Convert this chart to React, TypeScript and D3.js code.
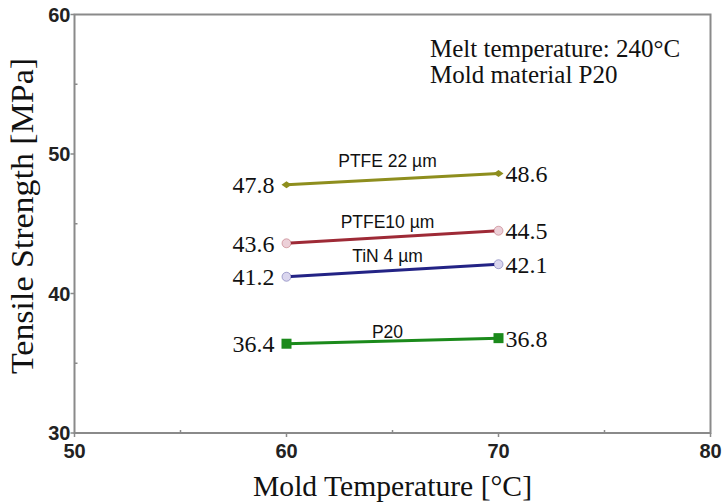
import React from "react";
import * as d3 from "d3";

const temps = [60, 70];
const seriesNames = ["PTFE 22 µm", "PTFE10 µm", "TiN 4 µm", "P20"];
const ptfe22 = [47.8, 48.6];
const ptfe10 = [43.6, 44.5];
const tin4 = [41.2, 42.1];
const p20 = [36.4, 36.8];
const xTicks = [50, 60, 70, 80];
const yTicks = [30, 40, 50, 60];
const xMinor = [55, 65, 75];
const yMinor = [35, 45, 55];

const W = 722, H = 504;
const L = 74.5, R = 710.5, T = 14.5, B = 433;

export default function App() {
  const x = d3.scaleLinear().domain([50, 80]).range([L, R]);
  const y = d3.scaleLinear().domain([30, 60]).range([B, T]);
  const line = d3.line<[number, number]>().x(d => x(d[0])).y(d => y(d[1]));

  const series = [
    { name: seriesNames[0], vals: ptfe22, color: "#8e8e1e", marker: "diamond", fill: "#8e8e1e", labelDy: -12 },
    { name: seriesNames[1], vals: ptfe10, color: "#9e2a36", marker: "circle", fill: "#ecd0d8", labelDy: -9 },
    { name: seriesNames[2], vals: tin4, color: "#232385", marker: "circle", fill: "#dad6ee", labelDy: -8.5 },
    { name: seriesNames[3], vals: p20, color: "#1b8a1b", marker: "square", fill: "#1b8a1b", labelDy: -3 },
  ];

  const serif = "'Liberation Serif', 'Times New Roman', serif";
  const sans = "'Liberation Sans', Arial, sans-serif";

  return (
    <svg width={W} height={H} style={{ position: "absolute", left: 0, top: 0, background: "#fff" }}>
      <rect x={L} y={T} width={R - L} height={B - T} fill="none" stroke="#8a8a8a" strokeWidth={2} />
      {xTicks.map(t => (
        <g key={"xt" + t}>
          <line x1={x(t)} x2={x(t)} y1={B} y2={B + 4} stroke="#8a8a8a" strokeWidth={1.5} />
          <text x={x(t)} y={458} textAnchor="middle" fontFamily={sans} fontWeight="bold" fontSize={20} fill="#222">{t}</text>
        </g>
      ))}
      {xMinor.map(t => (
        <line key={"xm" + t} x1={x(t)} x2={x(t)} y1={B} y2={B - 3} stroke="#8a8a8a" strokeWidth={1.5} />
      ))}
      {yTicks.map(t => (
        <g key={"yt" + t}>
          <line x1={L - 4} x2={L} y1={y(t)} y2={y(t)} stroke="#8a8a8a" strokeWidth={1.5} />
          <text x={L - 4} y={y(t)} dy="0.36em" textAnchor="end" fontFamily={sans} fontWeight="bold" fontSize={20} fill="#222">{t}</text>
        </g>
      ))}
      {yMinor.map(t => (
        <line key={"ym" + t} x1={L} x2={L + 3} y1={y(t)} y2={y(t)} stroke="#8a8a8a" strokeWidth={1.5} />
      ))}
      {series.map(s => {
        const pts: [number, number][] = temps.map((t, i) => [t, s.vals[i]]);
        const mx = (x(temps[0]) + x(temps[1])) / 2 - 5;
        const my = (y(s.vals[0]) + y(s.vals[1])) / 2;
        return (
          <g key={s.name}>
            <path d={line(pts) || ""} fill="none" stroke={s.color} strokeWidth={3} />
            {pts.map((p, i) => {
              const cx = x(p[0]), cy = y(p[1]);
              if (s.marker === "diamond")
                return <path key={i} d={`M${cx - 5},${cy}L${cx},${cy - 3.5}L${cx + 5},${cy}L${cx},${cy + 3.5}Z`} fill={s.fill} />;
              if (s.marker === "square")
                return <rect key={i} x={cx - 5} y={cy - 5} width={10} height={10} fill={s.fill} />;
              return <circle key={i} cx={cx} cy={cy} r={4.5} fill={s.fill} stroke={s.color} strokeOpacity={0.35} strokeWidth={1} />;
            })}
            <text x={mx} y={my + s.labelDy} textAnchor="middle" fontFamily={sans} fontSize={17.5} fill="#111">{s.name}</text>
            <text x={x(temps[0]) - 12} y={y(s.vals[0])} dy="0.35em" textAnchor="end" fontFamily={serif} fontSize={24} fill="#111">{s.vals[0].toFixed(1)}</text>
            <text x={x(temps[1]) + 7} y={y(s.vals[1])} dy="0.35em" textAnchor="start" fontFamily={serif} fontSize={24} fill="#111">{s.vals[1].toFixed(1)}</text>
          </g>
        );
      })}
      <text x={430} y={57} fontFamily={serif} fontSize={25} fill="#111">Melt temperature: 240°C</text>
      <text x={430} y={83} fontFamily={serif} fontSize={25} fill="#111">Mold material P20</text>
      <text x={392.5} y={496} textAnchor="middle" fontFamily={serif} fontSize={29} textLength={279} lengthAdjust="spacingAndGlyphs" fill="#111">Mold Temperature [°C]</text>
      <text transform={`translate(33,216) rotate(-90)`} textAnchor="middle" fontFamily={serif} fontSize={31} textLength={316} lengthAdjust="spacingAndGlyphs" fill="#111">Tensile Strength [MPa]</text>
    </svg>
  );
}
